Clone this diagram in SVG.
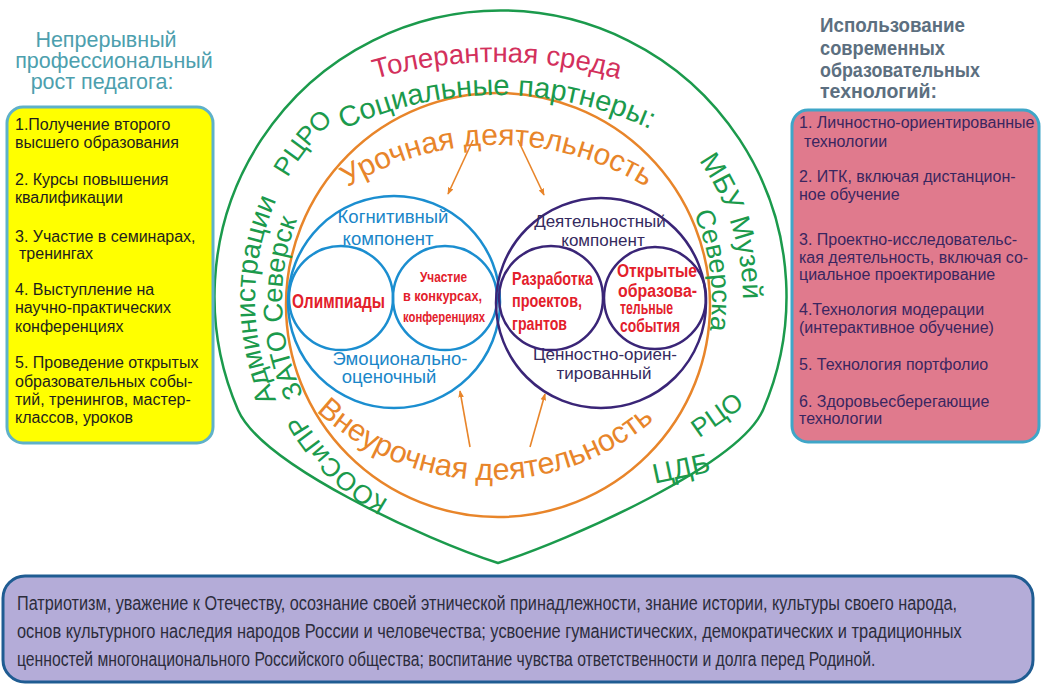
<svg xmlns="http://www.w3.org/2000/svg" width="1041" height="684" viewBox="0 0 1041 684">
<style>
text{font-family:"Liberation Sans",Arial,sans-serif}
.lbox{fill:#ffff00;stroke:#5fb1c9;stroke-width:3}
.rbox{fill:#e07a8d;stroke:#3fa6c8;stroke-width:3}
.bbox{fill:#b4acd8;stroke:#1f5c92;stroke-width:3}
.lt{font-size:16px;fill:#1e1e1e}
.rt{font-size:16px;fill:#3a2660}
.bt{font-size:20px;fill:#2c2c3c}
.lh{font-size:21.5px;fill:#4d9fae;text-anchor:middle}
.rh{font-size:20px;font-weight:bold;fill:#5c6f80}
.green{fill:#1b9a4c}
.orange{fill:#e8852a}
.ring{fill:none;stroke-width:2.5}
.blue{stroke:#1b8ed0}
.purple{stroke:#3a2577}
.bl{fill:#1a86c8;font-size:18.5px;text-anchor:middle}
.pl{fill:#352a5e;font-size:17px;text-anchor:middle}
.red{fill:#e3202b;font-weight:bold}
.arr{stroke:#e8852a;stroke-width:1.6;fill:none;marker-end:url(#ah)}
</style>
<defs>
<marker id="ah" viewBox="0 0 10 10" refX="9" refY="5" markerWidth="7" markerHeight="7" orient="auto" markerUnits="userSpaceOnUse">
<path d="M0,1 L10,5 L0,9 Z" fill="#e8852a"/>
</marker>
<path id="pTol" d="M 47,512 A 450 450 0 0 1 947,512"/>
<path id="pSoc" d="M 137,455 A 360 360 0 0 1 857,455"/>
<path id="pUr" d="M 212,430 A 285 285 0 0 1 782,430"/>
<path id="pVne" d="M 236,226 A 254 254 0 0 0 744,226"/>
<path id="pL245" d="M 500,545 A 245 245 0 0 1 500,55"/>
<path id="pL218" d="M 500,518 A 218 218 0 0 1 500,82"/>
<path id="pL229" d="M 500,529 A 229 229 0 0 1 500,71"/>
<path id="pR243" d="M 500,57 A 243 243 0 0 1 500,543"/>
<path id="pR212" d="M 500,88 A 212 212 0 0 1 500,512"/>
</defs>
<rect width="1041" height="684" fill="#ffffff"/>

<g id="outer-shape">
<path d="M 238,410 A 286 286 0 1 1 763,410 C 739,465 570,540 498,563 C 426,540 262,465 238,410 Z" fill="none" stroke="#1b9a4c" stroke-width="2.5"/>
</g>
<g id="orange-circle">
<circle cx="498" cy="305" r="212" class="ring" stroke="#e8852a"/>
</g>

<g id="partners-text">
<text font-size="27.5" fill="#d3305c"><textPath href="#pTol" startOffset="50%" text-anchor="middle">Толерантная среда</textPath></text>
<text font-size="29" class="green"><textPath href="#pSoc" startOffset="50%" text-anchor="middle">Социальные партнеры:</textPath></text>
<text font-size="26" class="green"><textPath href="#pL245" startOffset="71.4%" text-anchor="middle">РЦРО</textPath></text>
<text font-size="28" class="green"><textPath href="#pL245" startOffset="50%" text-anchor="middle">Администрации</textPath></text>
<text font-size="27" class="green"><textPath href="#pL218" startOffset="48.8%" text-anchor="middle">ЗАТО Северск</textPath></text>
<text font-size="26" class="green"><textPath href="#pL229" startOffset="24.8%" text-anchor="middle">КООСиПР</textPath></text>
<text font-size="28" class="green"><textPath href="#pR243" startOffset="40.2%" text-anchor="middle">МБУ Музей</textPath></text>
<text font-size="27" class="green"><textPath href="#pR212" startOffset="45.6%" text-anchor="middle">Северска</textPath></text>
<text x="722" y="422" font-size="26" class="green" text-anchor="middle" transform="rotate(-35 722 422)">РЦО</text>
<text x="681" y="478" font-size="28" class="green" text-anchor="middle" transform="rotate(-12 681 468)">ЦДБ</text>
</g>

<g id="activity-text">
<text font-size="30" class="orange"><textPath href="#pUr" startOffset="50%" text-anchor="middle">Урочная деятельность</textPath></text>
<text font-size="30.5" class="orange"><textPath href="#pVne" startOffset="49.2%" text-anchor="middle">Внеурочная деятельность</textPath></text>
</g>

<g id="connectors">
<line x1="473" y1="140" x2="448" y2="194" class="arr"/>
<line x1="518" y1="140" x2="544" y2="195" class="arr"/>
<line x1="470" y1="447" x2="460" y2="391" class="arr"/>
<line x1="530" y1="447" x2="545" y2="394" class="arr"/>
</g>

<g id="cognitive">
<circle cx="394" cy="302" r="106" class="ring blue"/>
<text x="393" y="223" class="bl">Когнитивный</text>
<text x="388" y="245" class="bl">компонент</text>
<text x="400" y="365" class="bl">Эмоционально-</text>
<text x="389" y="383" class="bl">оценочный</text>
</g>
<g id="olympiads">
<circle cx="341" cy="298" r="52" class="ring blue"/>
<text x="292" y="308" font-size="20" class="red" textLength="93" lengthAdjust="spacingAndGlyphs">Олимпиады</text>
</g>
<g id="contests">
<circle cx="445" cy="298" r="52" class="ring blue"/>
<text x="420" y="282" font-size="15" class="red" textLength="47" lengthAdjust="spacingAndGlyphs">Участие</text>
<text x="403" y="301" font-size="15" class="red" textLength="79" lengthAdjust="spacingAndGlyphs">в конкурсах,</text>
<text x="403" y="322" font-size="15" class="red" textLength="82" lengthAdjust="spacingAndGlyphs">конференциях</text>
</g>

<g id="activity">
<circle cx="601" cy="303" r="105" class="ring purple"/>
<text x="600" y="227" class="pl">Деятельностный</text>
<text x="603" y="246" class="pl">компонент</text>
<text x="605" y="360" class="pl">Ценностно-ориен-</text>
<text x="604" y="379" class="pl">тированный</text>
</g>
<g id="projects">
<circle cx="551" cy="298" r="52" class="ring purple"/>
<text x="512" y="285" font-size="19" class="red" textLength="81" lengthAdjust="spacingAndGlyphs">Разработка</text>
<text x="512" y="307" font-size="19" class="red" textLength="70" lengthAdjust="spacingAndGlyphs">проектов,</text>
<text x="512" y="330" font-size="19" class="red" textLength="55" lengthAdjust="spacingAndGlyphs">грантов</text>
</g>
<g id="open-events">
<circle cx="655" cy="298" r="51" class="ring purple"/>
<text x="617" y="277" font-size="18" class="red" textLength="80" lengthAdjust="spacingAndGlyphs">Открытые</text>
<text x="618" y="297" font-size="18" class="red" textLength="79" lengthAdjust="spacingAndGlyphs">образова-</text>
<text x="620" y="314" font-size="18" class="red" textLength="53" lengthAdjust="spacingAndGlyphs">тельные</text>
<text x="620" y="332" font-size="18" class="red" textLength="60" lengthAdjust="spacingAndGlyphs">события</text>
</g>

<g id="growth">
<text x="106" y="47" class="lh">Непрерывный</text>
<text x="114" y="68" class="lh">профессиональный</text>
<text x="102" y="89" class="lh">рост педагога:</text>
<rect x="7" y="107" width="206" height="336" rx="16" class="lbox"/>
<text class="lt">
<tspan x="15" y="130">1.Получение второго</tspan>
<tspan x="15" y="148">высшего образования</tspan>
<tspan x="15" y="185">2. Курсы повышения</tspan>
<tspan x="15" y="203">квалификации</tspan>
<tspan x="15" y="242">3. Участие в семинарах,</tspan>
<tspan x="19" y="259">тренингах</tspan>
<tspan x="15" y="295">4. Выступление на</tspan>
<tspan x="15" y="313">научно-практических</tspan>
<tspan x="15" y="332">конференциях</tspan>
<tspan x="15" y="368">5. Проведение открытых</tspan>
<tspan x="15" y="387">образовательных собы-</tspan>
<tspan x="15" y="405">тий, тренингов, мастер-</tspan>
<tspan x="15" y="423">классов, уроков</tspan>
</text>
</g>

<g id="technologies">
<text x="820" y="32" class="rh" textLength="145" lengthAdjust="spacingAndGlyphs">Использование</text>
<text x="820" y="55" class="rh" textLength="125" lengthAdjust="spacingAndGlyphs">современных</text>
<text x="820" y="77" class="rh" textLength="160" lengthAdjust="spacingAndGlyphs">образовательных</text>
<text x="820" y="98" class="rh" textLength="117" lengthAdjust="spacingAndGlyphs">технологий:</text>
<rect x="792" y="110" width="247" height="332" rx="16" class="rbox"/>
<text class="rt">
<tspan x="799" y="128">1. Личностно-ориентированные</tspan>
<tspan x="804" y="147">технологии</tspan>
<tspan x="799" y="182">2. ИТК, включая дистанцион-</tspan>
<tspan x="799" y="200">ное обучение</tspan>
<tspan x="799" y="245">3. Проектно-исследовательс-</tspan>
<tspan x="799" y="263">кая деятельность, включая со-</tspan>
<tspan x="799" y="280">циальное проектирование</tspan>
<tspan x="799" y="315">4.Технология модерации</tspan>
<tspan x="799" y="333">(интерактивное обучение)</tspan>
<tspan x="799" y="370">5. Технология портфолио</tspan>
<tspan x="799" y="407">6. Здоровьесберегающие</tspan>
<tspan x="799" y="424">технологии</tspan>
</text>
</g>

<g id="values">
<rect x="3" y="576" width="1030" height="106" rx="22" class="bbox"/>
<g transform="translate(17 0) scale(0.8 1)">
<text class="bt">
<tspan x="0" y="610" textLength="1175" lengthAdjust="spacingAndGlyphs">Патриотизм, уважение к Отечеству, осознание своей этнической принадлежности, знание истории, культуры своего народа,</tspan>
<tspan x="0" y="638" textLength="1181" lengthAdjust="spacingAndGlyphs">основ культурного наследия народов России и человечества; усвоение гуманистических, демократических и традиционных</tspan>
<tspan x="0" y="666" textLength="1073" lengthAdjust="spacingAndGlyphs">ценностей многонационального Российского общества; воспитание чувства ответственности и долга перед Родиной.</tspan>
</text>
</g>
</g>
</svg>
